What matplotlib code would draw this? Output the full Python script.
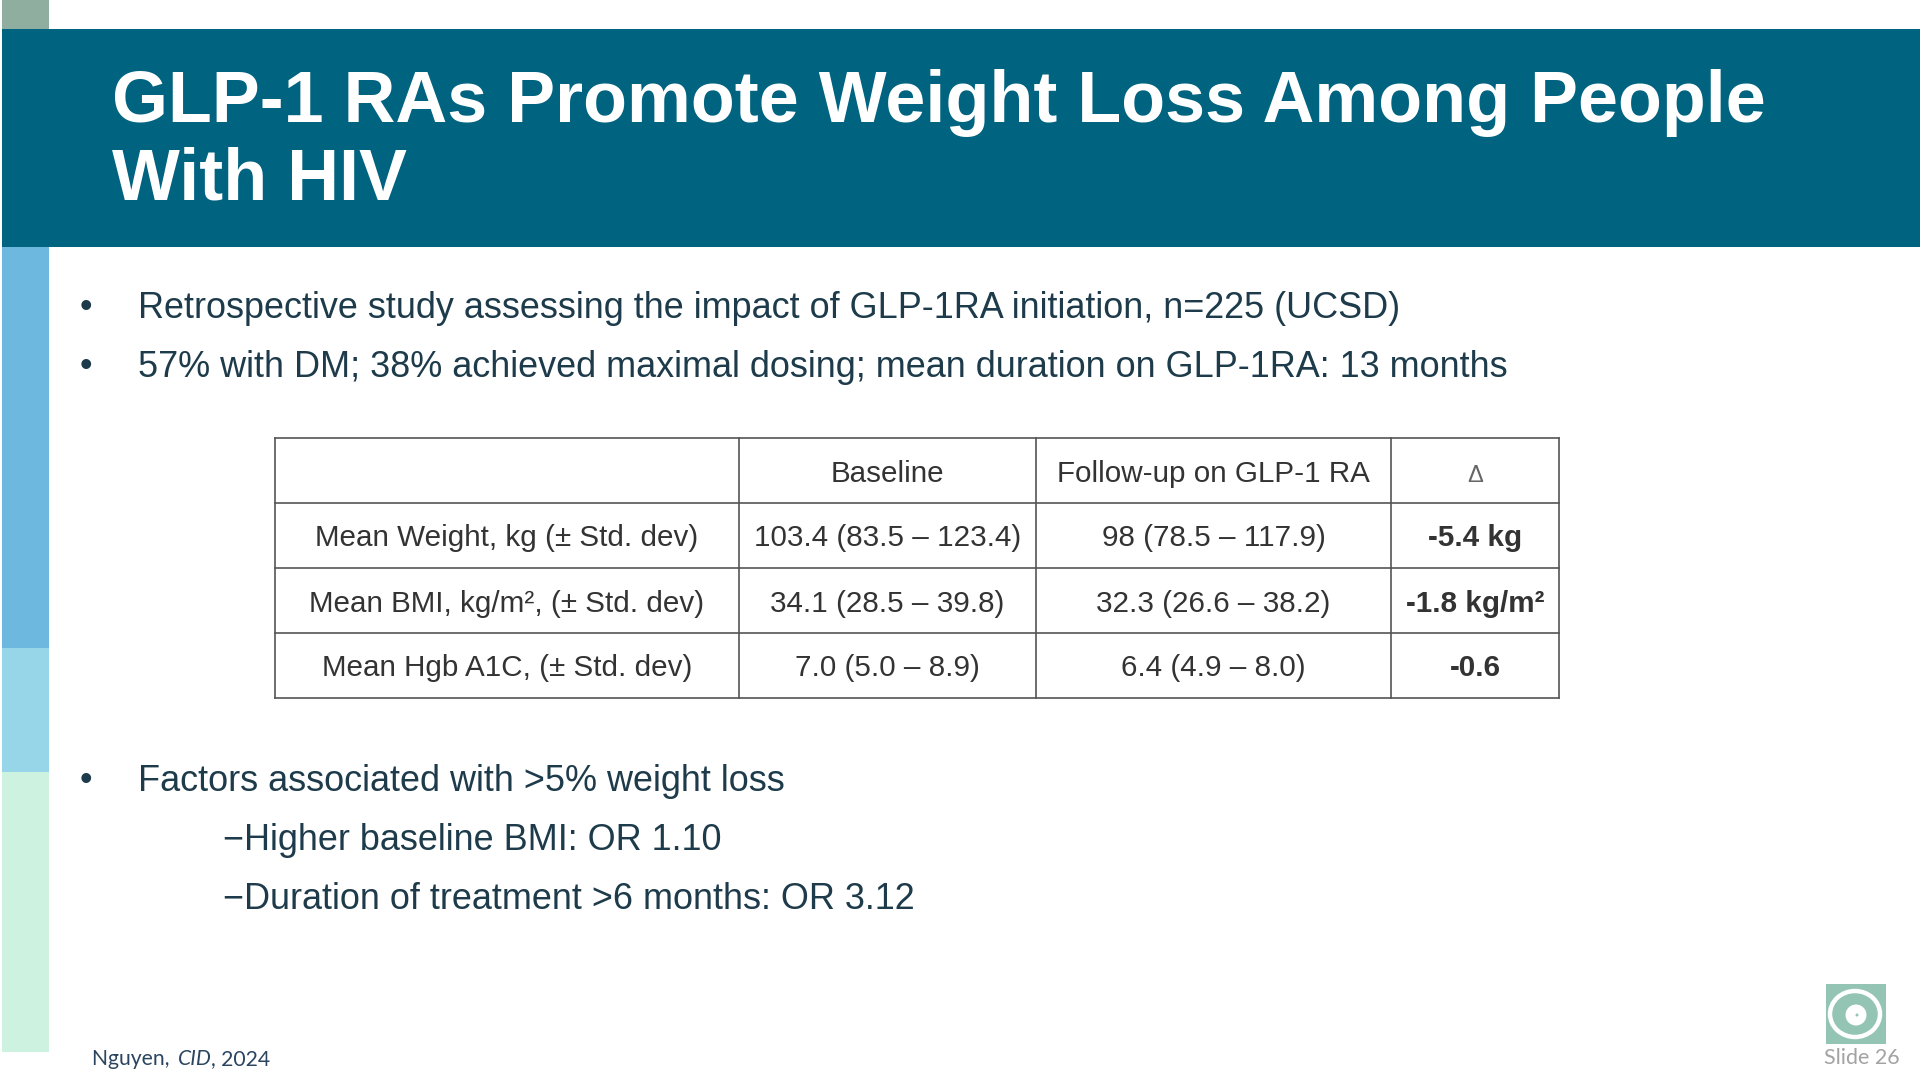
#!/usr/bin/env python3
"""Slide: GLP-1 RAs and weight loss among people with HIV."""

import matplotlib
matplotlib.use('Agg')
import matplotlib.pyplot as plt
from matplotlib.patches import Ellipse, Rectangle

title_lines = ['GLP-1 RAs Promote Weight Loss Among People', 'With HIV']

top_bullets = [
    'Retrospective study assessing the impact of GLP-1RA initiation, n=225 (UCSD)',
    '57% with DM; 38% achieved maximal dosing; mean duration on GLP-1RA: 13 months',
]
factor_bullet = 'Factors associated with >5% weight loss'
sub_bullets = ['−Higher baseline BMI: OR 1.10', '−Duration of treatment >6 months: OR 3.12']

col_labels = ['', 'Baseline', 'Follow-up on GLP-1 RA', 'Δ']
row_labels = ['Mean Weight, kg (± Std. dev)', 'Mean BMI, kg/m², (± Std. dev)', 'Mean Hgb A1C, (± Std. dev)']
baseline_vals = ['103.4 (83.5 – 123.4)', '34.1 (28.5 – 39.8)', '7.0 (5.0 – 8.9)']
followup_vals = ['98 (78.5 – 117.9)', '32.3 (26.6 – 38.2)', '6.4 (4.9 – 8.0)']
delta_vals = ['-5.4 kg', '-1.8 kg/m²', '-0.6']

col_edges = [275, 739, 1036, 1391, 1559]
row_edges = [438, 503, 568, 633, 698]

TEXT_COLOR = '#1d3b4a'
TABLE_TEXT = '#333333'
LINE_COLOR = '#555555'
BODY_SIZE = 25.9
TABLE_SIZE = 21.3

plt.rcParams['font.family'] = ['Liberation Sans', 'DejaVu Sans']

fig = plt.figure(figsize=(19.2, 10.8), dpi=100, facecolor='white')
ax = fig.add_axes([0, 0, 1, 1])
ax.set_xlim(0, 1920)
ax.set_ylim(1080, 0)
ax.axis('off')

# Left colour strip and banner
strips = [(0, 29, '#8fae9f'), (247, 648, '#6db8de'), (648, 772, '#97d6e8'), (772, 1052, '#cdf2e0')]
for top, bottom, color in strips:
    ax.add_patch(Rectangle((2, top), 47, bottom - top, color=color, lw=0))
ax.add_patch(Rectangle((2, 29), 1918, 218, color='#00637f', lw=0))

for y, line in zip([122, 199], title_lines):
    ax.text(112, y, line, color='white', fontsize=51.75, fontweight='bold', va='baseline')

# Bullets
for y, line in zip([318, 377], top_bullets):
    ax.text(80, y - 1, '•', color=TEXT_COLOR, fontsize=26, va='baseline')
    ax.text(138, y, line, color=TEXT_COLOR, fontsize=BODY_SIZE, va='baseline')

ax.text(80, 790, '•', color=TEXT_COLOR, fontsize=26, va='baseline')
ax.text(138, 791, factor_bullet, color=TEXT_COLOR, fontsize=BODY_SIZE, va='baseline')
for y, line in zip([850, 909], sub_bullets):
    ax.text(223, y, line, color=TEXT_COLOR, fontsize=BODY_SIZE, va='baseline')

# Table grid
for x in col_edges:
    ax.plot([x, x], [row_edges[0], row_edges[-1]], color=LINE_COLOR, lw=1.2, solid_capstyle='projecting')
for y in row_edges:
    ax.plot([col_edges[0], col_edges[-1]], [y, y], color=LINE_COLOR, lw=1.2, solid_capstyle='projecting')

columns = [[col_labels[0]] + row_labels,
           [col_labels[1]] + baseline_vals,
           [col_labels[2]] + followup_vals,
           [col_labels[3]] + delta_vals]
for c, cells in enumerate(columns):
    cx = (col_edges[c] + col_edges[c + 1]) / 2
    for r, cell in enumerate(cells):
        cy = (row_edges[r] + row_edges[r + 1]) / 2
        bold = c == 3 and r > 0
        is_delta = c == 3 and r == 0
        ax.text(cx, cy + 11, cell, color='#666666' if is_delta else TABLE_TEXT,
                fontsize=17 if is_delta else TABLE_SIZE, ha='center', va='baseline',
                fontweight='bold' if bold else 'normal')

# Footer
ax.text(92, 1065, 'Nguyen, ', color='#2b4560', fontsize=15.2, family='Lato', va='baseline')
ax.text(178, 1065, 'CID', color='#2b4560', fontsize=15.2, family='Lato', style='italic', va='baseline')
ax.text(211, 1065, ', 2024', color='#2b4560', fontsize=15.2, family='Lato', va='baseline')
ax.text(1824, 1064, 'Slide 26', color='#a3a3a3', fontsize=15.5, family='Lato', va='baseline')

# Logo
ax.add_patch(Rectangle((1826, 984), 60, 60, color='#93c4b4', lw=0))
ax.add_patch(Ellipse((1855, 1014), 50, 46, fc='none', ec='white', lw=3.2))
ax.add_patch(Ellipse((1856, 1015), 21, 21, color='white', lw=0))
ax.add_patch(Ellipse((1857, 1015), 3, 3, color='#93c4b4', lw=0))

fig.savefig('out.png', dpi=100)
